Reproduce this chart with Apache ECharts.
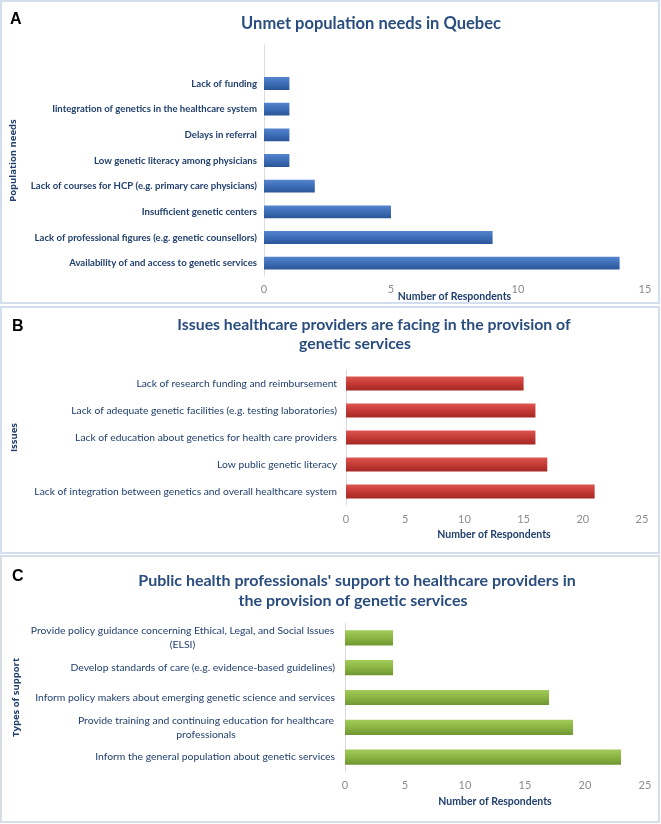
<!DOCTYPE html>
<html><head><meta charset="utf-8">
<script src="https://cdn.jsdelivr.net/npm/echarts/dist/echarts.min.js"></script>
<style>html,body{margin:0;padding:0;background:#fff}#c{width:661px;height:824px}</style>
</head><body><div id="c"></div>
<script>
// Panel A (listed bottom to top)
const needsCategories = [
  "Availability of and access to genetic services",
  "Lack of professional figures (e.g. genetic counsellors)",
  "Insufficient genetic centers",
  "Lack of courses for HCP (e.g. primary care physicians)",
  "Low genetic literacy among physicians",
  "Delays in referral",
  "Iintegration of genetics in the healthcare system",
  "Lack of funding"
];
const needsValues = [14, 9, 5, 2, 1, 1, 1, 1];
const needsTicks = {min: 0, max: 15, interval: 5};

// Panel B (bottom to top)
const issuesCategories = [
  "Lack of integration between genetics and overall healthcare system",
  "Low public genetic literacy",
  "Lack of education about genetics for health care providers",
  "Lack of adequate genetic facilities (e.g. testing laboratories)",
  "Lack of research funding and reimbursement"
];
const issuesValues = [21, 17, 16, 16, 15];
const issuesTicks = {min: 0, max: 25, interval: 5};

// Panel C (bottom to top)
const supportCategories = [
  "Inform the general population about genetic services",
  "Provide training and continuing education for healthcare\nprofessionals",
  "Inform policy makers about emerging genetic science and services",
  "Develop standards of care (e.g. evidence-based guidelines)",
  "Provide policy guidance concerning Ethical, Legal, and Social Issues\n(ELSI)"
];
const supportValues = [23, 19, 17, 4, 4];
const supportTicks = {min: 0, max: 25, interval: 5};

const FONT = 'Lato';
const NAVY = '#22406e';
const TITLE = '#2a4d7f';
const GRAYTXT = '#8c8c8c';

function grad(top, mid, bot) {
  return new echarts.graphic.LinearGradient(0, 0, 0, 1, [
    {offset: 0, color: top}, {offset: 0.5, color: mid}, {offset: 1, color: bot}
  ]);
}

const ctx = document.createElement('canvas').getContext('2d');
function measure(t, size) { ctx.font = size + 'px ' + FONT; return ctx.measureText(t).width; }

const cSize = 10.4;
const richC = {};
supportCategories.forEach((c, i) => {
  const lines = c.split('\n');
  if (lines.length > 1) {
    richC['w' + i] = {width: Math.ceil(measure(lines[0], cSize)) + 1, align: 'center',
      fontSize: cSize, fontFamily: FONT, color: NAVY, lineHeight: 14};
  }
});
function fmtC(v) {
  const i = supportCategories.indexOf(v);
  const lines = v.split('\n');
  if (lines.length === 1) return v;
  return lines.map(l => '{w' + i + '|' + l + '}').join('\n');
}

function xAxisCfg(idx, ticks, gap, margin) {
  return {
    type: 'value', gridIndex: idx, min: ticks.min, max: ticks.max, interval: ticks.interval,
    axisLine: {show: false}, axisTick: {show: false}, splitLine: {show: false},
    axisLabel: {color: GRAYTXT, fontSize: 11, fontFamily: FONT, margin: margin},
    name: 'Number of Respondents', nameLocation: 'middle', nameGap: gap, nameMoveOverlap: false,
    nameTextStyle: {color: NAVY, fontSize: 10.5, fontWeight: 'bold', fontFamily: FONT}
  };
}
function yAxisCfg(idx, cats, name, gap, labelSize, margin, weight, extra) {
  return Object.assign({
    type: 'category', gridIndex: idx, data: cats,
    axisLine: {show: true, lineStyle: {color: '#dcdcdc', width: 1}},
    axisTick: {show: false},
    axisLabel: {color: NAVY, fontSize: labelSize, fontFamily: FONT, fontWeight: weight, margin: margin, interval: 0},
    name: name, nameLocation: 'middle', nameRotate: 90, nameGap: gap,
    nameTextStyle: {color: NAVY, fontSize: 9.5, fontWeight: 'bold', fontFamily: 'Open Sans'}
  }, extra || {});
}

const titleStyle = (size) => ({fontFamily: FONT, fontWeight: 'bold', fontSize: size, color: TITLE});
const letterStyle = {fontFamily: 'Liberation Sans', fontWeight: 'bold', fontSize: 16, color: '#000'};

const chart = echarts.init(document.getElementById('c'), null, {renderer: 'canvas'});
chart.setOption({
  animation: false,
  backgroundColor: '#ffffff',
  graphic: [
    {type: 'rect', shape: {x: 1, y: 1, width: 658, height: 302}, style: {fill: 'none', stroke: '#d3deee', lineWidth: 2}, z: -1},
    {type: 'rect', shape: {x: 1, y: 307, width: 658, height: 246}, style: {fill: 'none', stroke: '#d3deee', lineWidth: 2}, z: -1},
    {type: 'rect', shape: {x: 1, y: 556, width: 658, height: 266}, style: {fill: 'none', stroke: '#d8dde5', lineWidth: 2}, z: -1}
  ],
  title: [
    {text: 'A', left: 5, top: 7, textStyle: letterStyle},
    {text: 'B', left: 7, top: 314, textStyle: letterStyle},
    {text: 'C', left: 7, top: 564, textStyle: letterStyle},
    {text: 'Unmet population needs in Quebec', left: 366, top: 10, textAlign: 'center', textStyle: titleStyle(16.5)},
    {text: 'Issues healthcare providers are facing in the provision of', left: 369, top: 312, textAlign: 'center', textStyle: titleStyle(15.8)},
    {text: 'genetic services', left: 350, top: 331, textAlign: 'center', textStyle: titleStyle(15.8)},
    {text: "Public health professionals' support to healthcare providers in", left: 352, top: 568, textAlign: 'center', textStyle: titleStyle(16)},
    {text: 'the provision of genetic services', left: 348, top: 588, textAlign: 'center', textStyle: titleStyle(16)}
  ],
  grid: [
    {left: 263, right: 16, top: 45, bottom: 548},
    {left: 346, right: 19, top: 370, bottom: 319},
    {left: 345, right: 16, top: 623, bottom: 52}
  ],
  xAxis: [
    xAxisCfg(0, needsTicks, 15, 8),
    xAxisCfg(1, issuesTicks, 24, 9),
    xAxisCfg(2, supportTicks, 24, 8)
  ],
  yAxis: [
    yAxisCfg(0, needsCategories, 'Population needs', 246, 9.6, 7, 'bold', {max: needsCategories.length}),
    yAxisCfg(1, issuesCategories, 'Issues', 327, 10.3, 9, 'normal'),
    yAxisCfg(2, supportCategories, 'Types of support', 324, cSize, 10, 'normal')
  ],
  series: [
    {type: 'bar', xAxisIndex: 0, yAxisIndex: 0, data: needsValues, barWidth: '50%',
      itemStyle: {color: grad('#5585cf', '#3d6db6', '#2b5597'), shadowColor: 'rgba(0,0,0,0.25)', shadowBlur: 2, shadowOffsetY: 1}},
    {type: 'bar', xAxisIndex: 1, yAxisIndex: 1, data: issuesValues, barWidth: '51%',
      itemStyle: {color: grad('#dc5550', '#c53a35', '#a42924'), shadowColor: 'rgba(0,0,0,0.25)', shadowBlur: 2, shadowOffsetY: 1}},
    {type: 'bar', xAxisIndex: 2, yAxisIndex: 2, data: supportValues, barWidth: '51%',
      itemStyle: {color: grad('#a2cb5a', '#8ab543', '#6f9631'), shadowColor: 'rgba(0,0,0,0.25)', shadowBlur: 2, shadowOffsetY: 1}}
  ]
});
chart.setOption({yAxis: [{}, {}, {axisLabel: {formatter: fmtC, rich: richC, lineHeight: 14}}]});
</script>
</body></html>
